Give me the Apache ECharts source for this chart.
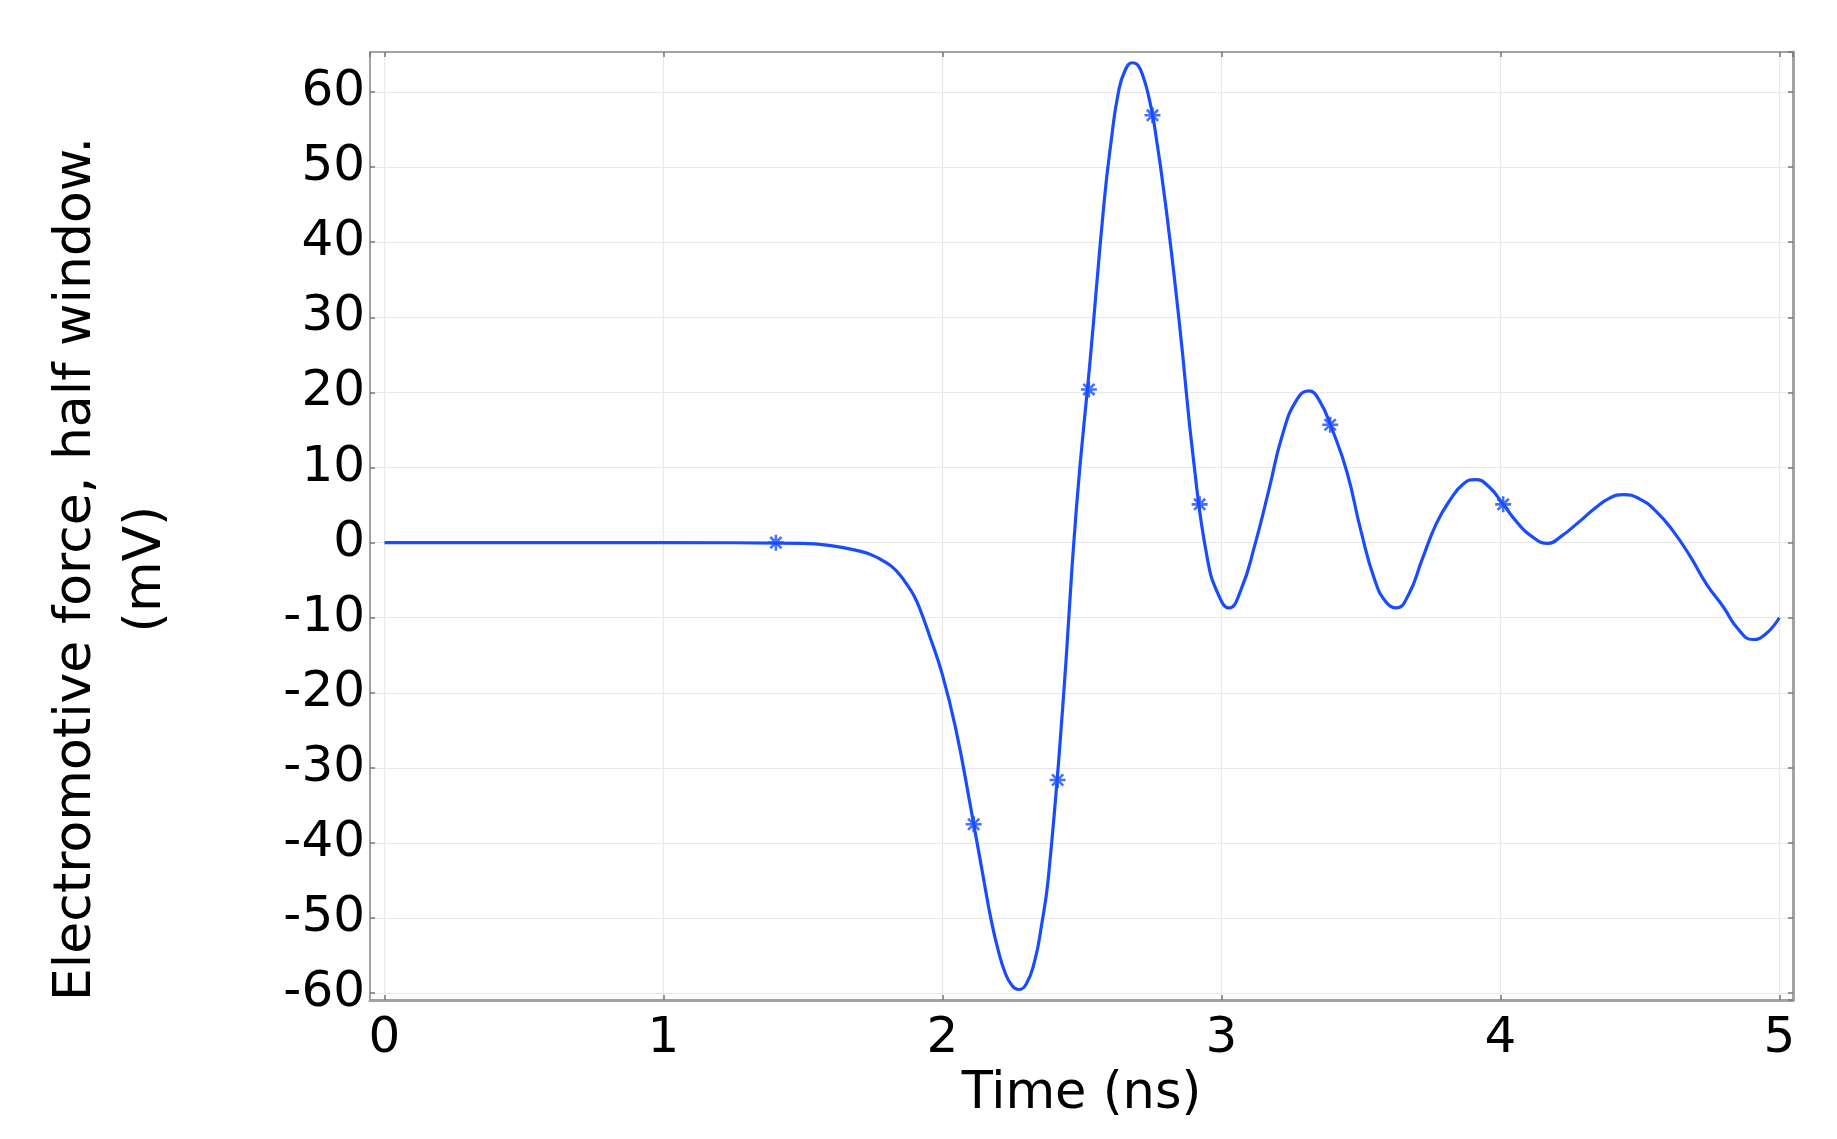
<!DOCTYPE html>
<html>
<head>
<meta charset="utf-8">
<style>
  html, body { margin: 0; padding: 0; background: #ffffff; }
  #chart { width: 1837px; height: 1139px; }
</style>
<script src="https://cdn.jsdelivr.net/npm/echarts@6/dist/echarts.min.js"></script>
</head>
<body>
<div id="chart"></div>
<script>
// Time (ns) of the sampled curve
const timeNs = [
  0, 0.5, 1.0, 1.5, 1.6, 1.7, 1.75, 1.8, 1.825, 1.85, 1.875, 1.9, 1.925, 1.95,
  2.0, 2.05, 2.1, 2.15, 2.175, 2.2, 2.225, 2.25, 2.273,
  2.30, 2.33, 2.355, 2.38, 2.43, 2.48, 2.53, 2.58, 2.605, 2.63, 2.655, 2.682,
  2.70, 2.72, 2.74, 2.76, 2.80, 2.85, 2.90, 2.95, 2.99, 3.027,
  3.07, 3.12, 3.17, 3.22, 3.27, 3.313,
  3.35, 3.40, 3.45, 3.50, 3.55, 3.59, 3.627,
  3.67, 3.72, 3.77, 3.82, 3.87, 3.911,
  3.96, 4.01, 4.06, 4.11, 4.170,
  4.22, 4.28, 4.34, 4.39, 4.441,
  4.50, 4.56, 4.62, 4.68, 4.74, 4.80, 4.85, 4.905,
  4.95, 5.0
];
// Electromotive force, half window (mV)
const emfMv = [
  0, 0, 0, -0.1, -0.4, -1.1, -1.7, -2.7, -3.4, -4.4, -5.7, -7.2, -9.4, -12.0,
  -17.6, -25.2, -35.0, -45.3, -50.3, -54.3, -57.3, -59.0, -59.5,
  -58.8, -55.8, -51.0, -44.5, -22.5, 4.5, 24.5, 45.5, 53.5, 59.8, 62.9, 63.9,
  63.6, 62.0, 59.3, 55.5, 45.0, 29.0, 11.0, -2.2, -7.0, -8.7,
  -6.3, -0.3, 7.0, 14.5, 19.0, 20.2,
  19.0, 14.8, 9.4, 1.6, -5.0, -7.9, -8.7,
  -7.0, -2.2, 2.5, 5.7, 7.9, 8.4,
  7.4, 5.1, 2.7, 0.9, -0.1,
  0.9, 2.7, 4.6, 5.9, 6.4,
  5.8, 4.1, 1.5, -1.8, -5.6, -8.6, -11.4, -12.9,
  -12.2, -10.0
];
// Marker (asterisk) positions
const markerTime = [1.403, 2.112, 2.413, 2.525, 2.753, 2.922, 3.390, 4.010];
const markerEmf  = [0, -37.5, -31.6, 20.4, 56.9, 5.1, 15.7, 5.1];

const xTicks = [0, 1, 2, 3, 4, 5];
const yTicks = [-60, -50, -40, -30, -20, -10, 0, 10, 20, 30, 40, 50, 60];

const FONT = 'DejaVu Sans';
const BLUE = '#1a4cff';
const FRAME = '#a3a3a3';
const GRID = '#e8e8e8';

const lineData = timeNs.map((t, i) => [t, emfMv[i]]);
const markData = markerTime.map((t, i) => [t, markerEmf[i]]);

const chart = echarts.init(document.getElementById('chart'), null, { renderer: 'canvas' });

const xFmt = v => (xTicks.indexOf(Math.round(v * 1000) / 1000) >= 0 ? String(Math.round(v)) : '');
const yFmt = v => (yTicks.indexOf(Math.round(v * 1000) / 1000) >= 0 ? String(Math.round(v)) : '');

const tickStyle = { show: true, inside: true, length: 5, lineStyle: { color: '#777', width: 1.5 } };

const option = {
  animation: false,
  backgroundColor: '#ffffff',
  grid: { left: 370, top: 52, right: 44, bottom: 139, containLabel: false },
  xAxis: [
    {
      type: 'value', position: 'bottom',
      min: -0.052, max: 5.049, splitNumber: 5,
      name: 'Time (ns)', nameLocation: 'middle', nameGap: 58,
      nameTextStyle: { fontFamily: FONT, fontSize: 51, color: '#000' },
      axisLine: { show: true, onZero: false, lineStyle: { color: FRAME, width: 3 } },
      axisTick: tickStyle,
      axisLabel: { show: true, margin: 14, fontFamily: FONT, fontSize: 50, color: '#000',
                   formatter: xFmt, showMinLabel: false, showMaxLabel: false, hideOverlap: false },
      splitLine: { show: true, lineStyle: { color: GRID, width: 1.2 } }
    },
    {
      type: 'value', position: 'top',
      min: -0.052, max: 5.049, splitNumber: 5,
      axisLine: { show: true, onZero: false, lineStyle: { color: FRAME, width: 2 } },
      axisTick: tickStyle,
      axisLabel: { show: false },
      splitLine: { show: false }
    }
  ],
  yAxis: [
    {
      type: 'value', position: 'left',
      min: -60.9, max: 65.33, splitNumber: 12,
      axisLine: { show: true, onZero: false, lineStyle: { color: FRAME, width: 2 } },
      axisTick: tickStyle,
      axisLabel: { show: true, margin: 5, fontFamily: FONT, fontSize: 50, color: '#000',
                   formatter: yFmt, showMinLabel: false, showMaxLabel: false, hideOverlap: false },
      splitLine: { show: true, lineStyle: { color: GRID, width: 1.2 } }
    },
    {
      type: 'value', position: 'right',
      min: -60.9, max: 65.33, splitNumber: 12,
      axisLine: { show: true, onZero: false, lineStyle: { color: FRAME, width: 3 } },
      axisTick: tickStyle,
      axisLabel: { show: false },
      splitLine: { show: false }
    }
  ],
  graphic: [
    {
      type: 'text',
      x: 111, y: 569,
      rotation: Math.PI / 2,
      style: {
        text: 'Electromotive force, half window.\n(mV)',
        font: '52px "DejaVu Sans"',
        fill: '#000',
        align: 'center',
        verticalAlign: 'middle',
        lineHeight: 70
      }
    }
  ],
  series: [
    {
      type: 'line',
      xAxisIndex: 0, yAxisIndex: 0,
      data: lineData,
      smooth: 0.5,
      showSymbol: false,
      symbol: 'none',
      lineStyle: { color: BLUE, width: 3.2 },
      itemStyle: { color: BLUE },
      z: 3
    },
    {
      type: 'scatter',
      xAxisIndex: 0, yAxisIndex: 0,
      data: markData,
      symbol: 'path://M0,5 L10,5 M5,0 L5,10 M1.5,1.5 L8.5,8.5 M8.5,1.5 L1.5,8.5',
      symbolSize: 16,
      itemStyle: { color: 'none', borderColor: BLUE, borderWidth: 2.6 },
      z: 4
    }
  ]
};

chart.setOption(option);
</script>
</body>
</html>
